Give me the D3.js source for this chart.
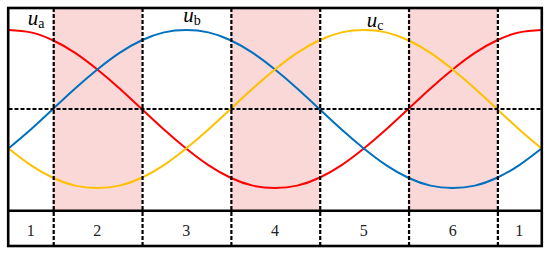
<!DOCTYPE html>
<html>
<head>
<meta charset="utf-8">
<script src="https://cdn.jsdelivr.net/npm/d3@7"></script>
<style>
  html, body { margin: 0; padding: 0; background: #fff; }
  svg { display: block; }
</style>
</head>
<body>
<svg id="chart" width="550" height="256"></svg>
<script>
// ---- data ----
const angles = d3.range(0, 361, 15); // electrical angle (deg), sample positions
const ua = [1, 0.97, 0.87, 0.71, 0.5, 0.26, 0, -0.26, -0.5, -0.71, -0.87, -0.97, -1, -0.97, -0.87, -0.71, -0.5, -0.26, 0, 0.26, 0.5, 0.71, 0.87, 0.97, 1];
const ub = [-0.5, -0.26, 0, 0.26, 0.5, 0.71, 0.87, 0.97, 1, 0.97, 0.87, 0.71, 0.5, 0.26, 0, -0.26, -0.5, -0.71, -0.87, -0.97, -1, -0.97, -0.87, -0.71, -0.5];
const uc = [-0.5, -0.71, -0.87, -0.97, -1, -0.97, -0.87, -0.71, -0.5, -0.26, 0, 0.26, 0.5, 0.71, 0.87, 0.97, 1, 0.97, 0.87, 0.71, 0.5, 0.26, 0, -0.26, -0.5];
const sectorEdges = [0, 30, 90, 150, 210, 270, 330, 360];
const sectorLabels = ["1", "2", "3", "4", "5", "6", "1"];
const shadedSectors = [1, 3, 5]; // indices into sector list (sectors 2,4,6)
const seriesNames = [
  { main: "u", sub: "a", angle: 13, value: 1.06 },
  { main: "u", sub: "b", angle: 118, value: 1.10 },
  { main: "u", sub: "c", angle: 242, value: 1.04 }
];

// ---- layout ----
const FONT = "'Liberation Serif', 'Times New Roman', 'DejaVu Serif', serif";
const L = 8.5, R = 541.5, T = 8, B = 246, D = 210.7;
const svg = d3.select("#chart");
const x = d3.scaleLinear().domain([0, 360]).range([L, R]);
const y = d3.scaleLinear().domain([-1, 1]).range([188, 30]);

// shaded sectors
svg.selectAll("rect.shade").data(shadedSectors).enter().append("rect")
  .attr("class", "shade")
  .attr("x", i => x(sectorEdges[i]))
  .attr("y", T)
  .attr("width", i => x(sectorEdges[i + 1]) - x(sectorEdges[i]))
  .attr("height", D - T)
  .attr("fill", "#f9d8d7");

// curves
const series = [
  { vals: ua, color: "#ff0000" },
  { vals: ub, color: "#0070c0" },
  { vals: uc, color: "#ffc000" }
];
const gen = d3.line().x((d, i) => x(angles[i])).y(d => y(d)).curve(d3.curveNatural);
svg.selectAll("path.wave").data(series).enter().append("path")
  .attr("class", "wave")
  .attr("d", s => gen(s.vals))
  .attr("fill", "none")
  .attr("stroke", s => s.color)
  .attr("stroke-width", 2);

// dashed midline
svg.append("line")
  .attr("x1", L).attr("x2", R)
  .attr("y1", y(0)).attr("y2", y(0))
  .attr("stroke", "#000").attr("stroke-width", 2.2)
  .attr("stroke-dasharray", "4,2");

// dashed sector boundaries
svg.selectAll("line.sep").data(sectorEdges.slice(1, -1)).enter().append("line")
  .attr("class", "sep")
  .attr("x1", d => x(d) + 0.8).attr("x2", d => x(d) + 0.8)
  .attr("y1", T).attr("y2", B)
  .attr("stroke", "#000").attr("stroke-width", 2.2)
  .attr("stroke-dasharray", "4,2");

// outer frame + divider
svg.append("rect")
  .attr("x", L - 0.3).attr("y", T).attr("width", R - L + 0.6).attr("height", B - T)
  .attr("fill", "none").attr("stroke", "#000").attr("stroke-width", 2.6);
svg.append("line")
  .attr("x1", L).attr("x2", R).attr("y1", D).attr("y2", D)
  .attr("stroke", "#000").attr("stroke-width", 2.6);

// sector labels
svg.selectAll("text.sec").data(sectorLabels).enter().append("text")
  .attr("class", "sec")
  .attr("x", (d, i) => (x(sectorEdges[i]) + x(sectorEdges[i + 1])) / 2)
  .attr("y", 236)
  .attr("text-anchor", "middle")
  .style("font-family", FONT)
  .style("font-size", "16px")
  .attr("fill", "#222")
  .text(d => d);

// series labels
const lab = svg.selectAll("text.name").data(seriesNames).enter().append("text")
  .attr("class", "name")
  .attr("x", d => x(d.angle))
  .attr("y", d => y(d.value))
  .style("font-family", FONT)
  .attr("fill", "#000");
lab.append("tspan").style("font-style", "italic").style("font-size", "21px").text(d => d.main);
lab.append("tspan").style("font-size", "14px").attr("dy", 3).text(d => d.sub);
</script>
</body>
</html>
